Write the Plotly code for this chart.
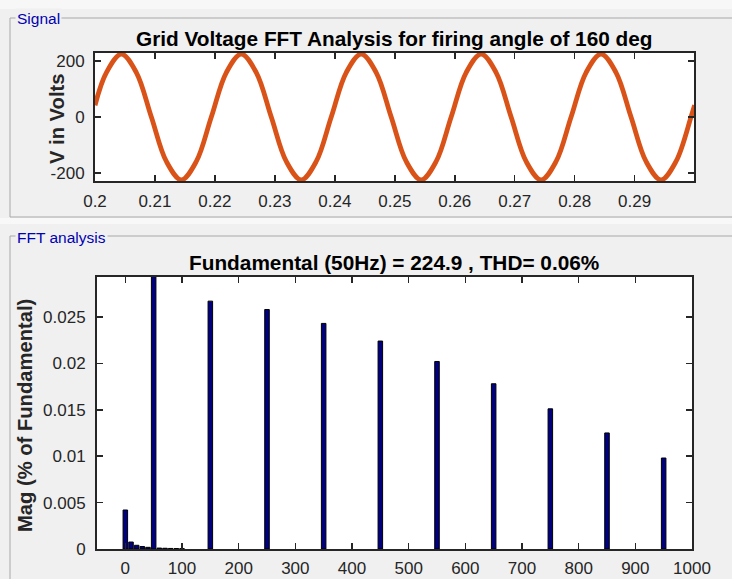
import plotly.graph_objects as go

W, H = 732, 579

# ---------------- data ----------------
time_s = [0.2000, 0.2019, 0.2044, 0.2069, 0.2094, 0.2119, 0.2144, 0.2169, 0.2194,
          0.2219, 0.2244, 0.2269, 0.2294, 0.2319, 0.2344, 0.2369, 0.2394,
          0.2419, 0.2444, 0.2469, 0.2494, 0.2519, 0.2544, 0.2569, 0.2594,
          0.2619, 0.2644, 0.2669, 0.2694, 0.2719, 0.2744, 0.2769, 0.2794,
          0.2819, 0.2844, 0.2869, 0.2894, 0.2919, 0.2944, 0.2969, 0.2994, 0.3000]
voltage = [42, 159, 225, 159, 0, -159, -225, -159, 0,
           159, 225, 159, 0, -159, -225, -159, 0,
           159, 225, 159, 0, -159, -225, -159, 0,
           159, 225, 159, 0, -159, -225, -159, 0,
           159, 225, 159, 0, -159, -225, -159, 0, 42]

freq_hz = [0, 10, 20, 30, 40, 50, 60, 70, 80, 90, 100,
           150, 250, 350, 450, 550, 650, 750, 850, 950]
mag_pct = [0.0042, 0.00075, 0.0004, 0.00027, 0.00018, 100, 0.0001, 0.00008, 0.00006, 0.00005, 0.00004,
           0.0267, 0.0258, 0.0243, 0.0224, 0.0202, 0.0178, 0.0151, 0.0125, 0.0098]

sig_xticks = [0.2, 0.21, 0.22, 0.23, 0.24, 0.25, 0.26, 0.27, 0.28, 0.29]
sig_xlabels = ["0.2", "0.21", "0.22", "0.23", "0.24", "0.25", "0.26", "0.27", "0.28", "0.29"]
sig_yticks = [-200, 0, 200]
sig_ylabels = ["-200", "0", "200"]
fft_xticks = [0, 100, 200, 300, 400, 500, 600, 700, 800, 900, 1000]
fft_yticks = [0, 0.005, 0.01, 0.015, 0.02, 0.025]
fft_ylabels = ["0", "0.005", "0.01", "0.015", "0.02", "0.025"]

title_sig = "Grid Voltage FFT Analysis for firing angle of 160 deg"
title_fft = "Fundamental (50Hz) = 224.9 , THD= 0.06%"

# ---------------- helpers ----------------
def px(x):
    return x / W

def py(y):
    return 1 - y / H

FONT = "Arial, Liberation Sans, sans-serif"
TXT = "#262626"

fig = go.Figure()
fig.add_trace(go.Scatter(x=time_s, y=voltage, mode="lines",
                         line=dict(color="#D95319", width=4.8, shape="spline", smoothing=1.0),
                         xaxis="x", yaxis="y", showlegend=False, hoverinfo="skip"))
fig.add_trace(go.Bar(x=freq_hz, y=mag_pct, width=8,
                     marker=dict(color="#000080", line=dict(color="#000000", width=1)),
                     xaxis="x2", yaxis="y2", showlegend=False, hoverinfo="skip"))

axis_common = dict(showgrid=False, zeroline=False, showline=True, linecolor=TXT, linewidth=2,
                   mirror="ticks", ticks="inside", ticklen=6, tickwidth=1.5, tickcolor=TXT,
                   automargin=False,
                   tickfont=dict(family=FONT, size=17, color=TXT))

fig.update_layout(
    width=W, height=H,
    margin=dict(l=0, r=0, t=0, b=0),
    paper_bgcolor="#F0F0F0", plot_bgcolor="#FFFFFF",
    bargap=0,
    xaxis=dict(domain=[px(95), px(694)], range=[0.2, 0.2999], tickvals=sig_xticks,
               ticktext=sig_xlabels, anchor="y", ticklabelstandoff=4, **axis_common),
    yaxis=dict(domain=[py(181), py(53)], range=[-229, 229], tickvals=sig_yticks,
               ticktext=sig_ylabels, anchor="x", ticklabelstandoff=5, **axis_common),
    xaxis2=dict(domain=[px(97), px(692)], range=[-50, 1000], tickvals=fft_xticks,
                anchor="y2", ticklabelstandoff=3, **axis_common),
    yaxis2=dict(domain=[py(549), py(277)], range=[0, 0.0293], tickvals=fft_yticks,
                ticktext=fft_ylabels, anchor="x2", ticklabelstandoff=6, **axis_common),
)

shapes = [
    dict(type="rect", xref="paper", yref="paper", x0=0, x1=1, y0=py(9), y1=1,
         fillcolor="#F7F7F7", line=dict(width=0), layer="below"),
    dict(type="rect", xref="paper", yref="paper", x0=0, x1=1, y0=py(224), y1=py(218),
         fillcolor="#F8F8F8", line=dict(width=0), layer="below"),
    # Signal panel frame
    dict(type="rect", xref="paper", yref="paper", x0=px(10), x1=px(740), y0=py(217), y1=py(18),
         line=dict(color="#A8A8A8", width=1), layer="below"),
    # FFT panel frame
    dict(type="rect", xref="paper", yref="paper", x0=px(10), x1=px(740), y0=py(590), y1=py(236),
         line=dict(color="#A8A8A8", width=1), layer="below"),
]
fig.update_layout(shapes=shapes)

ann = [
    dict(text="Signal", x=px(15), y=py(18), xanchor="left", yanchor="middle",
         font=dict(family=FONT, size=15.5, color="#0000B4"), bgcolor="#F0F0F0", borderpad=1),
    dict(text="FFT analysis", x=px(15), y=py(237), xanchor="left", yanchor="middle",
         font=dict(family=FONT, size=15.5, color="#0000B4"), bgcolor="#F0F0F0", borderpad=1),
    dict(text="<b>" + title_sig + "</b>", x=px(394), y=py(38), xanchor="center", yanchor="middle",
         font=dict(family=FONT, size=20.8, color="#000000")),
    dict(text="<b>" + title_fft + "</b>", x=px(394.5), y=py(262), xanchor="center", yanchor="middle",
         font=dict(family=FONT, size=20.8, color="#000000")),
    dict(text="<b>V in Volts</b>", x=px(57), y=py(119), xanchor="center", yanchor="middle",
         textangle=-90, font=dict(family=FONT, size=20.2, color=TXT)),
    dict(text="<b>Mag (% of Fundamental)</b>", x=px(25), y=py(416), xanchor="center", yanchor="middle",
         textangle=-90, font=dict(family=FONT, size=20.2, color=TXT)),
]
for a in ann:
    a.update(xref="paper", yref="paper", showarrow=False)
fig.update_layout(annotations=ann)

fig.write_html("out.html", config={"displayModeBar": False, "staticPlot": True},
               post_script="document.body.style.margin='0';document.body.style.background='#F0F0F0';")
